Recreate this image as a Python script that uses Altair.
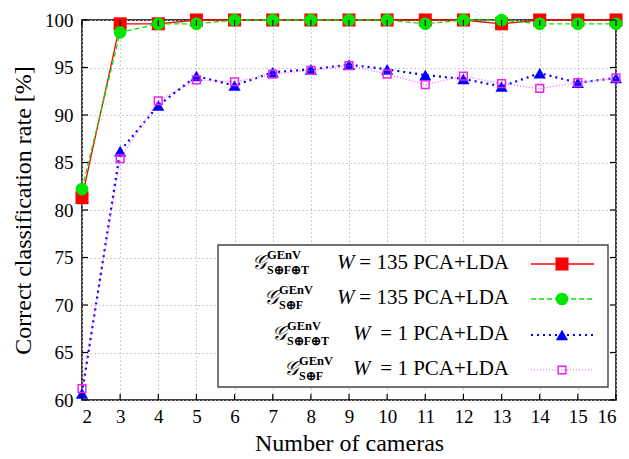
import altair as alt
import pandas as pd

# ---------------- data ----------------
cameras = list(range(2, 17))
rate_sft_135 = [81.3, 99.6, 99.6, 100, 100, 100, 100, 100, 100, 100, 100, 99.6, 100, 100, 100]
rate_sf_135 = [82.2, 98.7, 99.6, 99.6, 100, 100, 100, 100, 100, 99.6, 100, 100, 99.6, 99.6, 99.6]
rate_sft_1 = [60.7, 86.2, 91.0, 94.1, 93.1, 94.5, 94.8, 95.3, 94.8, 94.2, 93.8, 93.0, 94.4, 93.4, 93.9]
rate_sf_1 = [61.2, 85.4, 91.5, 93.7, 93.5, 94.3, 94.7, 95.2, 94.3, 93.2, 94.1, 93.3, 92.8, 93.4, 93.9]
y_ticks = [60, 65, 70, 75, 80, 85, 90, 95, 100]

legend_sub = ["S⊕F⊕T", "S⊕F", "S⊕F⊕T", "S⊕F"]
legend_sup = "GEnV"
legend_w = ["135", "135", "1", "1"]
legend_tail = "PCA+LDA"

series = [rate_sft_135, rate_sf_135, rate_sft_1, rate_sf_1]

# ---------------- styles / layout ----------------
FONT = "Liberation Serif"
W, H = 534, 380
styles = [
    dict(color="#ff0000", dash=None, sw=1.3, shape="square", filled=True, size=170, mcolor="#ff0000"),
    dict(color="#00e600", dash=[5, 3], sw=1.3, shape="circle", filled=True, size=160, mcolor="#00e600"),
    dict(color="#0000ff", dash=[2, 4], sw=2.2, shape="triangle-up", filled=True, size=150, mcolor="#0000ff"),
    dict(color="#ff55ff", dash=[1, 2], sw=1.2, shape="square", filled=False, size=60, mcolor="#ee22ee"),
]

xscale = alt.Scale(domain=[2, 16], nice=False, zero=False)
yscale = alt.Scale(domain=[60, 100], nice=False, zero=False)
xaxis = alt.Axis(values=cameras, title="Number of cameras", format="d",
                 labelPadding=7, titlePadding=5)
yaxis = alt.Axis(values=y_ticks, title="Correct classification rate [%]",
                 labelPadding=9, titlePadding=9)

def X(f="x"):
    return alt.X(f"{f}:Q", scale=xscale, axis=xaxis)

def Y(f="y"):
    return alt.Y(f"{f}:Q", scale=yscale, axis=yaxis)

layers = []
for vals, st in zip(series, styles):
    df = pd.DataFrame({"x": cameras, "y": vals})
    line_kw = dict(color=st["color"], strokeWidth=st["sw"])
    if st["dash"]:
        line_kw["strokeDash"] = st["dash"]
    layers.append(alt.Chart(df).mark_line(**line_kw).encode(x=X(), y=Y()))
    pt_kw = dict(shape=st["shape"], size=st["size"], filled=st["filled"], opacity=1)
    if st["filled"]:
        pt_kw["fill"] = st["mcolor"]
        pt_kw["strokeWidth"] = 0
    else:
        pt_kw["stroke"] = st["mcolor"]
        pt_kw["strokeWidth"] = 1.5
    layers.append(alt.Chart(df).mark_point(**pt_kw).encode(x=X(), y=Y()))

# inward ticks on all four sides
xt = pd.DataFrame({"x": cameras})
yt = pd.DataFrame({"y": y_ticks})
tick_kw = dict(color="black", strokeWidth=1.2)
layers.append(alt.Chart(xt).mark_rule(**tick_kw).encode(x=X(), y=alt.value(H), y2=alt.value(H - 6)))
layers.append(alt.Chart(xt).mark_rule(**tick_kw).encode(x=X(), y=alt.value(0), y2=alt.value(6)))
layers.append(alt.Chart(yt).mark_rule(**tick_kw).encode(y=Y(), x=alt.value(0), x2=alt.value(6)))
layers.append(alt.Chart(yt).mark_rule(**tick_kw).encode(y=Y(), x=alt.value(W), x2=alt.value(W - 6)))

# ---------------- legend (drawn inside the plot) ----------------
one = pd.DataFrame({"d": [0]})
OX, OY = 82, 20  # plot origin in page pixels
box = alt.Chart(one).mark_rect(fill="white", stroke="#444444", strokeWidth=1.4).encode(
    x=alt.value(218 - OX), x2=alt.value(608 - OX), y=alt.value(245 - OY), y2=alt.value(387 - OY))
layers.append(box)

row_y = [263, 298, 334, 369]
g_left = [252, 264, 272, 284]
w_left = [337, 337, 353, 353]
for i, st in enumerate(styles):
    yc = row_y[i] - OY
    sample_kw = dict(color=st["color"], strokeWidth=st["sw"])
    if st["dash"]:
        sample_kw["strokeDash"] = st["dash"]
    layers.append(alt.Chart(one).mark_rule(**sample_kw).encode(
        x=alt.value(531 - OX), x2=alt.value(594 - OX), y=alt.value(yc + 1)))
    pt_kw = dict(shape=st["shape"], size=st["size"], filled=st["filled"], opacity=1)
    if st["filled"]:
        pt_kw["fill"] = st["mcolor"]
        pt_kw["strokeWidth"] = 0
    else:
        pt_kw["stroke"] = st["mcolor"]
        pt_kw["strokeWidth"] = 1.5
    layers.append(alt.Chart(one).mark_point(**pt_kw).encode(
        x=alt.value(562 - OX), y=alt.value(yc + 1)))
    gx = g_left[i] - OX
    layers.append(alt.Chart(one).mark_text(
        text="𝒢", font=FONT, fontSize=20, fontStyle="italic", align="left", baseline="middle", color="black"
    ).encode(x=alt.value(gx), y=alt.value(yc)))
    layers.append(alt.Chart(one).mark_text(
        text=legend_sup, font=FONT, fontSize=12.5, fontWeight="bold", align="left", baseline="middle", color="black"
    ).encode(x=alt.value(gx + 15), y=alt.value(yc - 8)))
    layers.append(alt.Chart(one).mark_text(
        text=legend_sub[i], font=FONT, fontSize=12, fontWeight="bold", align="left", baseline="middle", color="black"
    ).encode(x=alt.value(gx + 15), y=alt.value(yc + 7)))
    layers.append(alt.Chart(one).mark_text(
        text="W", font=FONT, fontSize=21, fontStyle="italic", align="left", baseline="middle", color="black"
    ).encode(x=alt.value(w_left[i] - OX), y=alt.value(yc)))
    layers.append(alt.Chart(one).mark_text(
        text=f"= {legend_w[i]} {legend_tail}", font=FONT, fontSize=21, align="right", baseline="middle", color="black"
    ).encode(x=alt.value(509 - OX), y=alt.value(yc)))

chart = alt.layer(*layers).properties(
    width=W, height=H,
    background="white",
    padding={"left": 82, "top": 20, "right": 13, "bottom": 59},
    autosize=alt.AutoSizeParams(type="none"),
).configure_view(
    stroke="black", strokeWidth=1.5
).configure_axis(
    labelFont=FONT, labelFontSize=19, labelColor="black",
    titleFont=FONT, titleFontSize=24, titleFontWeight="normal", titleColor="black",
    ticks=False, domain=False,
    grid=True, gridColor="#bdbdbd", gridDash=[1.5, 2.5], gridWidth=1,
)

chart.save("out.html", embed_options={"renderer": "svg", "actions": False})
